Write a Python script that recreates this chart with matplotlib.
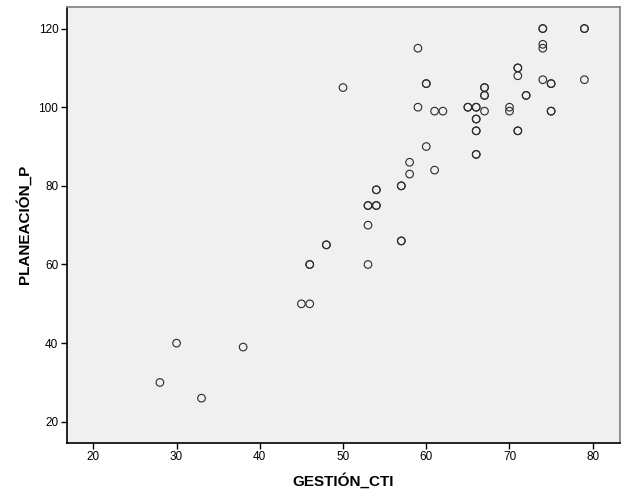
import matplotlib.pyplot as plt

# GESTIÓN_CTI vs PLANEACIÓN_P (puntos repetidos se dibujan dos veces)
gestion_cti = [74, 74, 79, 79, 59, 74, 74, 71, 71, 71, 50, 60, 60, 74, 75, 75, 79,
               67, 67, 67, 67, 72, 72, 59, 61, 62, 65, 65, 66, 66, 67, 70, 70,
               75, 75, 66, 66, 66, 66, 71, 71, 60, 66, 66, 58, 58, 61, 57, 57,
               54, 54, 53, 53, 54, 54, 53, 57, 57, 48, 48, 46, 46, 53, 45, 46,
               30, 38, 28, 33]
planeacion_p = [120, 120, 120, 120, 115, 116, 115, 110, 110, 108, 105, 106, 106, 107, 106, 106, 107,
                105, 105, 103, 103, 103, 103, 100, 99, 99, 100, 100, 100, 100, 99, 100, 99,
                99, 99, 97, 97, 94, 94, 94, 94, 90, 88, 88, 86, 83, 84, 80, 80,
                79, 79, 75, 75, 75, 75, 70, 66, 66, 65, 65, 60, 60, 60, 50, 50,
                40, 39, 30, 26]

x_ticks = [20, 30, 40, 50, 60, 70, 80]
y_ticks = [20, 40, 60, 80, 100, 120]

plt.rcParams['font.family'] = ['Liberation Sans', 'DejaVu Sans']

fig = plt.figure(figsize=(6.29, 5.04), dpi=100)
ax = fig.add_axes([0.106, 0.121, 0.880, 0.866])
ax.set_facecolor('#f0f0f0')

ax.scatter(gestion_cti, planeacion_p, s=30, facecolors='none',
           edgecolors='#2a2a2a', linewidths=0.8, zorder=3)

ax.set_xlim(16.8, 83.3)
ax.set_ylim(14.6, 125.6)
ax.set_xticks(x_ticks)
ax.set_yticks(y_ticks)
ax.tick_params(direction='out', length=4, width=1, labelsize=8.5, pad=2, colors='black')

ax.spines['left'].set_color('black')
ax.spines['bottom'].set_color('black')
ax.spines['top'].set_color('#808080')
ax.spines['right'].set_color('#808080')
for s in ax.spines.values():
    s.set_linewidth(1.2)

ax.set_xlabel('GESTIÓN_CTI', fontsize=11, fontweight='bold', labelpad=7)
ax.set_ylabel('PLANEACIÓN_P', fontsize=11, fontweight='bold', labelpad=5)

fig.savefig('out.png', dpi=100)
